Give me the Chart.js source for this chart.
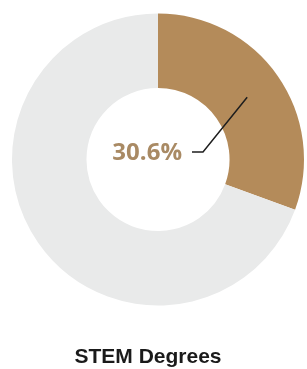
<!DOCTYPE html>
<html>
<head>
<meta charset="utf-8">
<script src="https://cdn.jsdelivr.net/npm/chart.js@4"></script>
<style>
    html, body { margin: 0; padding: 0; background: #ffffff; }
    #wrap { width: 307px; height: 369px; position: relative; }
</style>
</head>
<body>
<div id="wrap"><canvas id="stemChart"></canvas></div>
<script>
// datos del grafico
const categorias = ['STEM', 'Otros'];
const valores = [30.6, 69.4];
const colores = ['#b48b5a', '#e9eaea'];
const etiqueta = '30.6%';
const titulo = 'STEM Degrees';

// etiqueta con linea guia sobre el segmento STEM
const etiquetaPlugin = {
    id: 'etiquetaPlugin',
    afterDatasetsDraw(chart) {
        const ctx = chart.ctx;
        const arc = chart.getDatasetMeta(0).data[0];
        const p = arc.getCenterPoint();
        const cx = arc.x, cy = arc.y;
        const codoX = cx + 45, codoY = cy - 7.5;
        const finX = cx + 34;
        ctx.save();
        ctx.strokeStyle = '#1e1e1e';
        ctx.lineWidth = 1.5;
        ctx.beginPath();
        ctx.moveTo(p.x, p.y);
        ctx.lineTo(codoX, codoY);
        ctx.lineTo(finX, codoY);
        ctx.stroke();
        ctx.fillStyle = '#a98a64';
        ctx.font = 'bold 24px "Open Sans"';
        ctx.textAlign = 'right';
        ctx.textBaseline = 'middle';
        ctx.fillText(etiqueta, finX - 10, codoY + 1);
        ctx.restore();
    },
    afterDraw(chart) {
        const ctx = chart.ctx;
        ctx.save();
        ctx.fillStyle = '#1a1a1a';
        ctx.font = 'bold 21px "Liberation Sans"';
        ctx.textAlign = 'center';
        ctx.textBaseline = 'middle';
        ctx.fillText(titulo, 148, 357);
        ctx.restore();
    }
};

const ctxStem = document.getElementById('stemChart').getContext('2d');
new Chart(ctxStem, {
    type: 'doughnut',
    data: {
        labels: categorias,
        datasets: [{
            data: valores,
            backgroundColor: colores,
            borderWidth: 0
        }]
    },
    options: {
        responsive: true,
        maintainAspectRatio: false,
        animation: false,
        cutout: '49%',
        layout: {
            padding: { left: 12, right: 3, top: 12, bottom: 62 }
        },
        plugins: {
            legend: { display: false },
            tooltip: { enabled: false },
            title: { display: false }
        }
    },
    plugins: [etiquetaPlugin]
});
</script>
</body>
</html>
